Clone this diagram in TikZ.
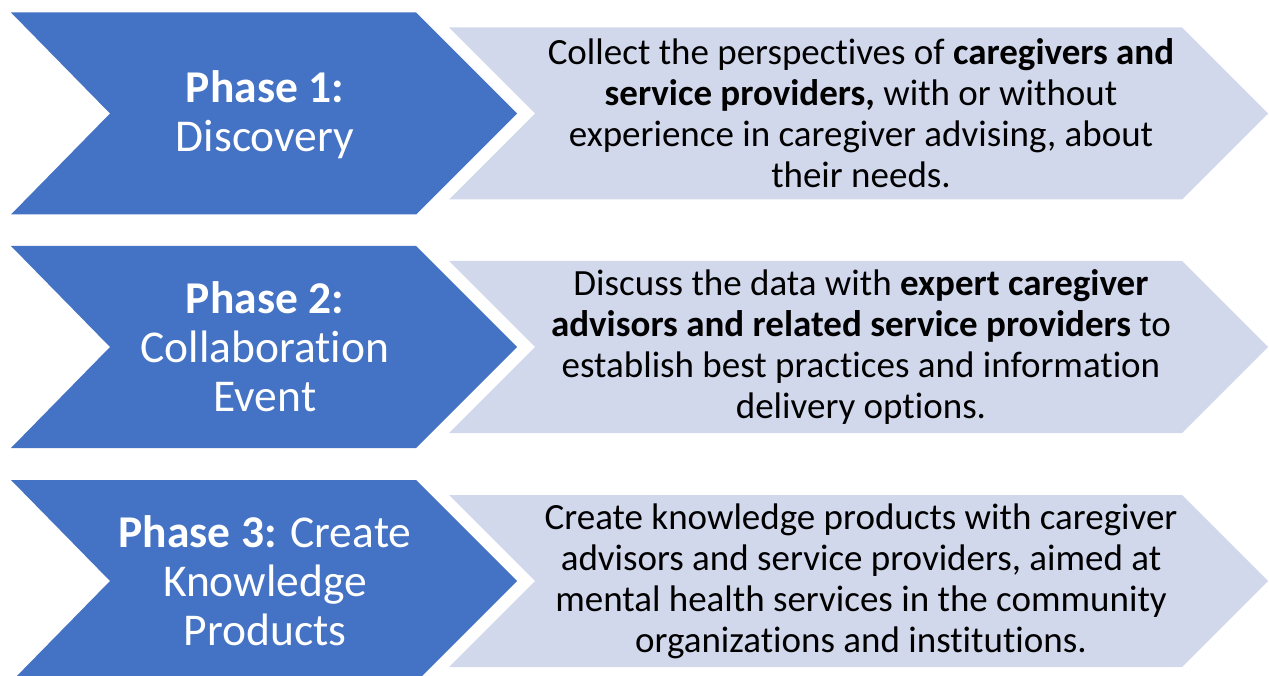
\documentclass[tikz,border=0pt]{standalone}
\usepackage{fontspec}
\setmainfont{Carlito}[Ligatures=NoCommon]

\definecolor{phaseblue}{RGB}{68,114,196}
\definecolor{detailblue}{RGB}{210,216,236}

\tikzset{
  phasefill/.style={fill=phaseblue},
  detailfill/.style={fill=detailblue},
  phaselabel/.style={text=white, align=center, font=\fontsize{45.5}{49}\selectfont},
  detaillabel/.style={text=black, align=center, font=\fontsize{37}{41}\selectfont},
}

\begin{document}
\begin{tikzpicture}[x=1pt,y=-1pt]
    % Canvas:
    \useasboundingbox (0,0) rectangle (1269,676);
    \clip (0,0) rectangle (1269,676);
    % Drawing: one dark and one light chevron per row.
    \foreach \yc in {113.5,347,581}{
      \fill[phasefill] (11,\yc-101) -- (416,\yc-101) -- (517,\yc)
        -- (416,\yc+101) -- (11,\yc+101) -- (110,\yc) -- cycle;
      \fill[detailfill] (449,\yc-86) -- (1182,\yc-86) -- (1268,\yc)
        -- (1182,\yc+86) -- (449,\yc+86) -- (535,\yc) -- cycle;
    }
    % Labels:
    \node[phaselabel] (phase1) at (265,115) {\textbf{Phase 1:}\\Discovery};
    \node[phaselabel] (phase2) at (265,347) {\textbf{Phase 2:}\\Collaboration\\Event};
    \node[phaselabel] (phase3) at (265,581) {\textbf{Phase 3:} Create\\Knowledge\\Products};
    \node[detaillabel] (detail1) at (861,113.5) {Collect the perspectives of \textbf{caregivers and}\\
      \textbf{service providers,} with or without\\experience in caregiver advising, about\\their needs.};
    \node[detaillabel] (detail2) at (861,347) {Discuss the data with \textbf{expert caregiver}\\
      \textbf{advisors and related service providers} to\\establish best practices and information\\delivery options.};
    \node[detaillabel] (detail3) at (861,581) {Create knowledge products with caregiver\\
      advisors and service providers, aimed at\\mental health services in the community\\organizations and institutions.};
\end{tikzpicture}
\end{document}
